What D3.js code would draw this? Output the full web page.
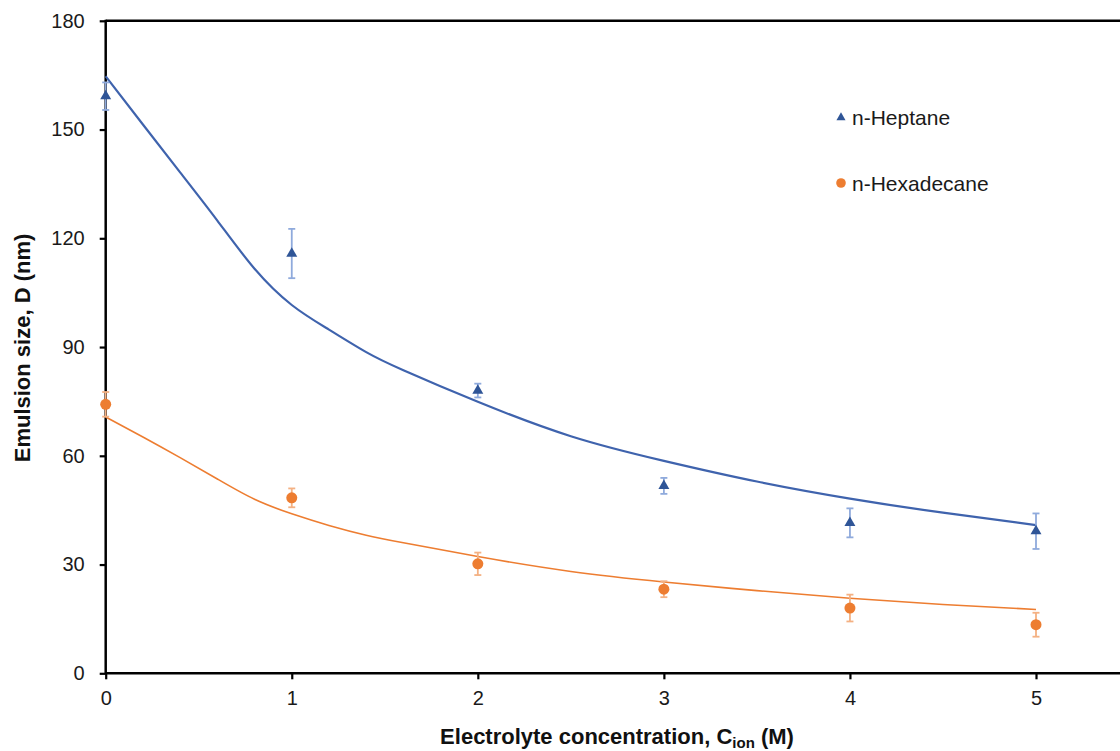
<!DOCTYPE html>
<html>
<head>
<meta charset="utf-8">
<script src="https://cdn.jsdelivr.net/npm/d3@7"></script>
<style>
  html, body { margin: 0; padding: 0; background: #fff; overflow: hidden; }
  svg { display: block; font-family: "Liberation Sans", Arial, sans-serif; }
</style>
</head>
<body>
<svg id="chart" width="1120" height="751"></svg>
<script>
// Measured points: electrolyte concentration (M) vs emulsion size (nm)
const concentrations = [0, 1, 2, 3, 4, 5];
const heptaneSize  = [159.2, 115.8, 78.0, 51.7, 41.5, 39.2];
const heptaneErr   = [3.8, 6.8, 1.9, 2.2, 4.0, 4.9];
const hexadecaneSize = [74.2, 48.4, 30.2, 23.2, 18.0, 13.4];
const hexadecaneErr  = [3.4, 2.6, 3.1, 2.2, 3.7, 3.3];

// Fitted model curves
const fitX          = [0, 0.2, 0.4, 0.6, 0.8, 1.0, 1.2, 1.4, 1.6, 2, 2.5, 3, 3.5, 4, 4.5, 5];
const heptaneFit    = [164.7, 151.4, 138.2, 124.9, 111.6, 101.6, 94.8, 88.6, 83.6, 74.9, 65.4, 58.6, 52.9, 48.2, 44.3, 40.9];
const hexadecaneFit = [70.7, 65.2, 59.5, 53.6, 48.0, 44.0, 40.8, 38.1, 36.0, 32.2, 28.1, 25.2, 22.8, 20.7, 19.0, 17.6];

const xTicks = [0, 1, 2, 3, 4, 5];
const yTicks = [0, 30, 60, 90, 120, 150, 180];
const seriesNames = ["n-Heptane", "n-Hexadecane"];

const svg = d3.select("#chart");
const plotLeft = 105.7, plotTop = 20.8, plotBottom = 673.3;

const x = d3.scaleLinear().domain([0, 5]).range([plotLeft, 1036]);
const y = d3.scaleLinear().domain([0, 180]).range([plotBottom, plotTop]);
const xEnd = x(5.5);

// Frame: top border line
svg.append("line")
  .attr("x1", plotLeft).attr("x2", xEnd)
  .attr("y1", plotTop).attr("y2", plotTop)
  .attr("stroke", "#000").attr("stroke-width", 2.5);

// Axes
const yAxis = svg.append("g")
  .attr("transform", `translate(${plotLeft},0)`)
  .call(d3.axisLeft(y).tickValues(yTicks).tickSize(6).tickPadding(15));
const xAxis = svg.append("g")
  .attr("transform", `translate(0,${plotBottom})`)
  .call(d3.axisBottom(x).tickValues(xTicks).tickFormat(d3.format("d")).tickSize(6).tickPadding(12));
xAxis.select(".domain").attr("d", `M${plotLeft},0H${xEnd}`);
yAxis.select(".domain").attr("d", `M0,${plotBottom + 1}V${plotTop - 1}`);
[xAxis, yAxis].forEach(g => {
  g.select(".domain").attr("stroke", "#000").attr("stroke-width", 2.5);
  g.selectAll(".tick line").attr("stroke", "#000").attr("stroke-width", 2.2);
  g.selectAll(".tick text")
    .attr("fill", "#1a1a1a")
    .style("font-size", "20px")
    .style("font-family", "'Liberation Sans', Arial, sans-serif");
});

// Axis titles
const xTitle = svg.append("text")
  .attr("x", 617).attr("y", 744)
  .attr("text-anchor", "middle")
  .style("font-size", "22px").style("font-weight", "bold").attr("fill", "#111");
xTitle.append("tspan").text("Electrolyte concentration, C");
xTitle.append("tspan").text("ion").style("font-size", "15px").attr("dy", 4);
xTitle.append("tspan").text(" (M)").attr("dy", -4);

svg.append("text")
  .attr("transform", `translate(30,348) rotate(-90)`)
  .attr("text-anchor", "middle")
  .style("font-size", "22px").style("font-weight", "bold").attr("fill", "#111")
  .text("Emulsion size, D (nm)");

// Fit curves (smooth spline through the fitted values)
const line = d3.line().x(d => x(d[0])).y(d => y(d[1])).curve(d3.curveNatural);
svg.append("path")
  .datum(fitX.map((v, i) => [v, heptaneFit[i]]))
  .attr("d", line).attr("fill", "none")
  .attr("stroke", "#3F63AD").attr("stroke-width", 2.2);
svg.append("path")
  .datum(fitX.map((v, i) => [v, hexadecaneFit[i]]))
  .attr("d", line).attr("fill", "none")
  .attr("stroke", "#ED7D31").attr("stroke-width", 1.6);

// Error bars
function errorBars(vals, errs, color) {
  const g = svg.append("g").attr("stroke", color).attr("stroke-width", 1.8).attr("fill", "none");
  concentrations.forEach((c, i) => {
    const cx = x(c), y1 = y(vals[i] + errs[i]), y2 = y(vals[i] - errs[i]);
    g.append("line").attr("x1", cx).attr("x2", cx).attr("y1", y1).attr("y2", y2);
    g.append("line").attr("x1", cx - 3.5).attr("x2", cx + 3.5).attr("y1", y1).attr("y2", y1);
    g.append("line").attr("x1", cx - 3.5).attr("x2", cx + 3.5).attr("y1", y2).attr("y2", y2);
  });
}
errorBars(heptaneSize, heptaneErr, "#8FAADC");
errorBars(hexadecaneSize, hexadecaneErr, "#F4B183");

// Markers
const tri = d3.symbol().type(d3.symbolTriangle).size(52);
svg.append("g").selectAll("path")
  .data(concentrations.map((c, i) => [c, heptaneSize[i]]))
  .join("path")
  .attr("d", tri)
  .attr("transform", d => `translate(${x(d[0])},${y(d[1])})`)
  .attr("fill", "#2F5597");
svg.append("g").selectAll("circle")
  .data(concentrations.map((c, i) => [c, hexadecaneSize[i]]))
  .join("circle")
  .attr("cx", d => x(d[0])).attr("cy", d => y(d[1])).attr("r", 5.5)
  .attr("fill", "#ED7D31");

// Legend
const legend = svg.append("g");
legend.append("path").attr("d", d3.symbol().type(d3.symbolTriangle).size(36))
  .attr("transform", "translate(841,117.5)").attr("fill", "#2F5597");
legend.append("circle").attr("cx", 841).attr("cy", 183).attr("r", 4.8).attr("fill", "#ED7D31");
legend.selectAll("text")
  .data(seriesNames)
  .join("text")
  .attr("x", 852).attr("y", (d, i) => 124.5 + i * 66)
  .style("font-size", "21px").attr("fill", "#1a1a1a")
  .text(d => d);
</script>
</body>
</html>
